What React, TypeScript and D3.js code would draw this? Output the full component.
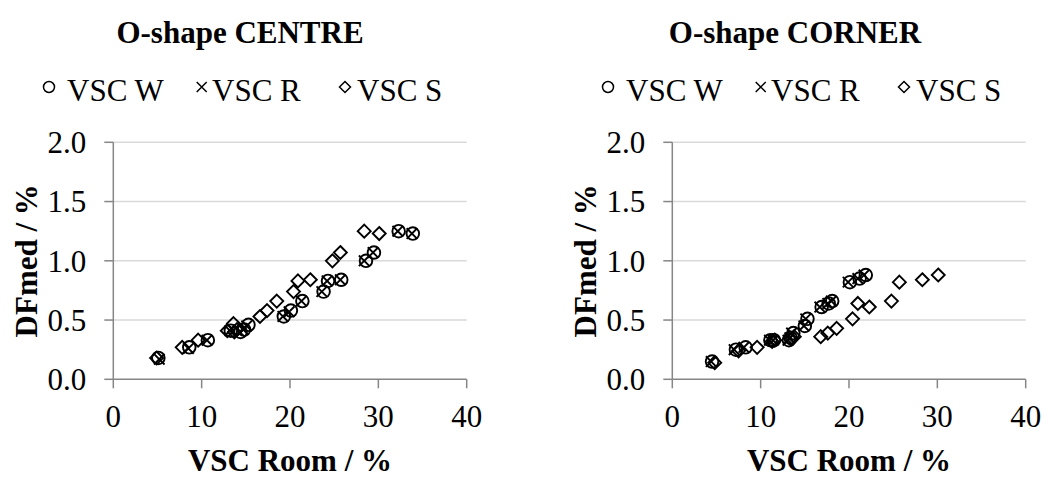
import React from "react";
import * as d3 from "d3";

// ---- Data ----
const xTicks = [0, 10, 20, 30, 40];
const yTicks = [0.0, 0.5, 1.0, 1.5, 2.0];

const centreW_x = [5.1, 8.6, 10.7, 13.3, 14.4, 14.8, 15.3, 19.3, 20.1, 21.4, 23.8, 24.3, 25.8, 28.6, 29.5, 32.3, 33.9];
const centreW_y = [0.18, 0.27, 0.33, 0.41, 0.40, 0.42, 0.46, 0.53, 0.58, 0.66, 0.74, 0.83, 0.84, 1.0, 1.07, 1.25, 1.23];
const centreR_x = [5.2, 8.5, 10.6, 13.2, 14.3, 14.7, 15.1, 19.2, 19.9, 21.3, 23.6, 24.2, 25.7, 28.4, 29.4, 32.2, 33.8];
const centreR_y = [0.17, 0.26, 0.33, 0.41, 0.40, 0.42, 0.45, 0.53, 0.57, 0.66, 0.74, 0.83, 0.84, 1.0, 1.07, 1.25, 1.23];
const centreS_x = [4.9, 7.8, 9.6, 12.9, 13.7, 14.0, 13.6, 16.6, 17.4, 18.5, 20.4, 20.9, 22.3, 24.8, 25.7, 28.4, 30.1];
const centreS_y = [0.18, 0.27, 0.33, 0.41, 0.40, 0.42, 0.47, 0.53, 0.58, 0.66, 0.74, 0.83, 0.84, 1.0, 1.07, 1.25, 1.23];

const cornerW_x = [4.5, 7.2, 8.3, 11.1, 11.5, 13.2, 13.4, 13.7, 15.0, 15.3, 16.9, 17.7, 18.1, 20.1, 21.2, 21.9];
const cornerW_y = [0.15, 0.25, 0.27, 0.33, 0.33, 0.33, 0.35, 0.39, 0.45, 0.51, 0.61, 0.64, 0.66, 0.82, 0.85, 0.88];
const cornerR_x = [4.4, 7.0, 8.1, 11.0, 11.4, 13.1, 13.3, 13.5, 14.9, 15.1, 16.7, 17.6, 18.0, 19.9, 21.0, 21.7];
const cornerR_y = [0.15, 0.25, 0.27, 0.33, 0.33, 0.33, 0.35, 0.39, 0.45, 0.51, 0.61, 0.64, 0.66, 0.82, 0.85, 0.88];
const cornerS_x = [4.8, 7.5, 9.6, 11.3, 11.6, 13.4, 13.8, 16.8, 17.6, 18.6, 20.4, 21.0, 22.3, 24.8, 25.7, 28.3, 30.1];
const cornerS_y = [0.14, 0.24, 0.27, 0.32, 0.33, 0.34, 0.36, 0.36, 0.39, 0.43, 0.51, 0.64, 0.61, 0.66, 0.82, 0.84, 0.88];

const legendLabels = ["VSC W", "VSC R", "VSC S"];

const FONT = "'Liberation Serif', 'Times New Roman', serif";

type Series = { xs: number[]; ys: number[] };

function Marker({ kind, x, y, s, sw }: { kind: number; x: number; y: number; s: number; sw: number }) {
  if (kind === 0) return <circle cx={x} cy={y} r={s} fill="none" stroke="#000" strokeWidth={sw} />;
  if (kind === 1)
    return (
      <path
        d={`M${x - s},${y - s}L${x + s},${y + s}M${x - s},${y + s}L${x + s},${y - s}`}
        stroke="#000"
        strokeWidth={sw}
        fill="none"
      />
    );
  return (
    <path
      d={`M${x},${y - s}L${x + s},${y}L${x},${y + s}L${x - s},${y}Z`}
      stroke="#000"
      strokeWidth={sw}
      fill="none"
    />
  );
}

function Panel({ ox, title, titleX, series }: { ox: number; title: string; titleX: number; series: Series[] }) {
  const x = d3.scaleLinear().domain([0, 40]).range([ox + 113.3, ox + 466.7]);
  const y = d3.scaleLinear().domain([0, 2]).range([379.3, 142.3]);
  const legendX = [ox + 49, ox + 201.7, ox + 345];
  const legendTextX = [ox + 67, ox + 212, ox + 357];
  const markerSizes = [6.3, 5.3, 6.5];
  return (
    <g>
      <text x={titleX} y={43} textAnchor="middle" fontFamily={FONT} fontWeight="bold" fontSize={31}>
        {title}
      </text>
      {legendLabels.map((lab, i) => (
        <g key={lab}>
          <Marker kind={i} x={legendX[i]} y={87} s={i === 1 ? 5 : 5.5} sw={1.5} />
          <text x={legendTextX[i]} y={101} fontFamily={FONT} fontSize={31}>
            {lab}
          </text>
        </g>
      ))}
      {yTicks.slice(1).map((t) => (
        <line key={"g" + t} x1={x(0)} x2={x(40)} y1={y(t)} y2={y(t)} stroke="#d9d9d9" strokeWidth={1.5} />
      ))}
      <line x1={x(0)} x2={x(0)} y1={y(0)} y2={y(2)} stroke="#868686" strokeWidth={1.5} />
      <line x1={x(0)} x2={x(40)} y1={y(0)} y2={y(0)} stroke="#868686" strokeWidth={1.5} />
      {yTicks.map((t) => (
        <g key={"y" + t}>
          <line x1={x(0) - 9} x2={x(0)} y1={y(t)} y2={y(t)} stroke="#868686" strokeWidth={1.5} />
          <text x={x(0) - 27} y={y(t)} dy="0.35em" textAnchor="end" fontFamily={FONT} fontSize={31}>
            {t.toFixed(1)}
          </text>
        </g>
      ))}
      {xTicks.map((t) => (
        <g key={"x" + t}>
          <line x1={x(t)} x2={x(t)} y1={y(0)} y2={y(0) + 9} stroke="#868686" strokeWidth={1.5} />
          <text x={x(t)} y={427} textAnchor="middle" fontFamily={FONT} fontSize={31}>
            {t}
          </text>
        </g>
      ))}
      <text
        x={(x(0) + x(40)) / 2}
        y={471}
        textAnchor="middle"
        fontFamily={FONT}
        fontWeight="bold"
        fontSize={31}
      >
        VSC Room / %
      </text>
      <text
        transform={`translate(${ox + 37},${(y(0) + y(2)) / 2}) rotate(-90)`}
        textAnchor="middle"
        fontFamily={FONT}
        fontWeight="bold"
        fontSize={31}
      >
        DFmed / %
      </text>
      {series.map((s, k) =>
        s.xs.map((v, i) => (
          <Marker key={k + "-" + i} kind={k} x={x(v)} y={y(s.ys[i])} s={markerSizes[k]} sw={1.9} />
        ))
      )}
    </g>
  );
}

export default function App() {
  return (
    <svg width={1050} height={477} style={{ position: "absolute", left: 0, top: 0, background: "#fff" }}>
      <rect width={1050} height={477} fill="#fff" />
      <Panel
        ox={0}
        title="O-shape CENTRE"
        titleX={240}
        series={[
          { xs: centreW_x, ys: centreW_y },
          { xs: centreR_x, ys: centreR_y },
          { xs: centreS_x, ys: centreS_y },
        ]}
      />
      <Panel
        ox={559}
        title="O-shape CORNER"
        titleX={795}
        series={[
          { xs: cornerW_x, ys: cornerW_y },
          { xs: cornerR_x, ys: cornerR_y },
          { xs: cornerS_x, ys: cornerS_y },
        ]}
      />
    </svg>
  );
}
